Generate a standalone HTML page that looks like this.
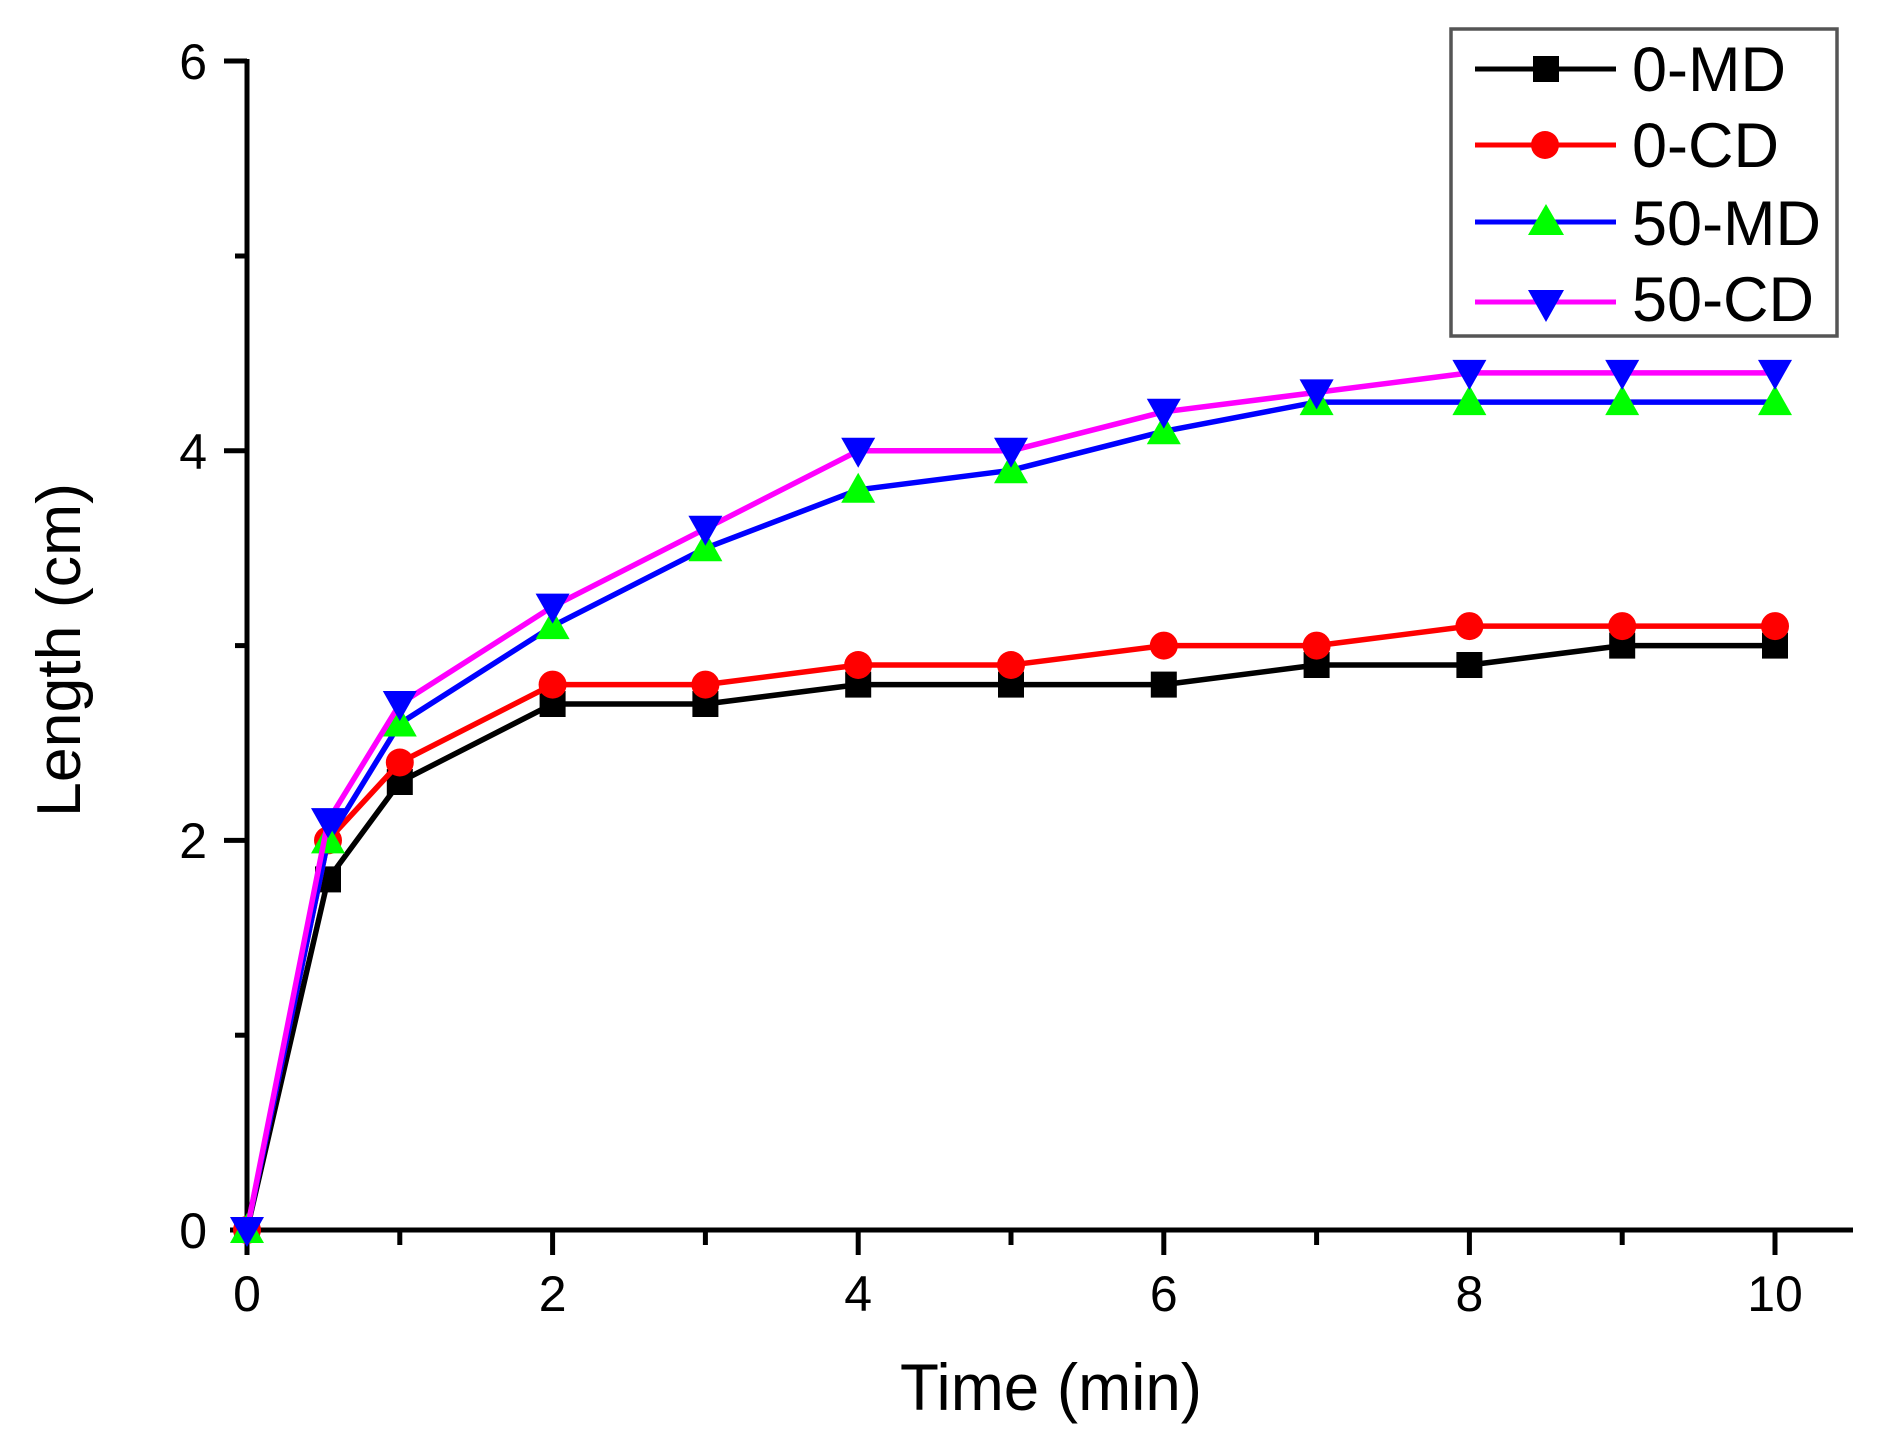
<!DOCTYPE html>
<html><head><meta charset="utf-8"><style>body{margin:0;background:#fff}svg{display:block}</style></head>
<body>
<svg width="1896" height="1448" viewBox="0 0 1896 1448" xmlns="http://www.w3.org/2000/svg" font-family="Liberation Sans, Arial, sans-serif">
<defs>
<marker id="sq" markerUnits="userSpaceOnUse" markerWidth="26" markerHeight="26" refX="13" refY="13" overflow="visible"><rect x="0" y="0" width="26" height="26" fill="#000"/></marker>
<marker id="ci" markerUnits="userSpaceOnUse" markerWidth="28" markerHeight="28" refX="14" refY="14" overflow="visible"><circle cx="14" cy="14" r="14" fill="#f00"/></marker>
<marker id="tu" markerUnits="userSpaceOnUse" markerWidth="34" markerHeight="30" refX="17" refY="17" overflow="visible"><polygon points="17,0 34,30 0,30" fill="#0f0"/></marker>
<marker id="td" markerUnits="userSpaceOnUse" markerWidth="34" markerHeight="30" refX="17" refY="13" overflow="visible"><polygon points="0,0 34,0 17,30" fill="#00f"/></marker>
</defs>
<g stroke="#000" stroke-width="5" fill="none">
<line x1="247" y1="59" x2="247" y2="1232"/>
<line x1="230" y1="1230" x2="1853" y2="1230"/>
<line x1="224" y1="61" x2="247" y2="61"/>
<line x1="224" y1="450.8" x2="247" y2="450.8"/>
<line x1="224" y1="840.4" x2="247" y2="840.4"/>
<line x1="235" y1="256" x2="247" y2="256"/>
<line x1="235" y1="645.6" x2="247" y2="645.6"/>
<line x1="235" y1="1035.2" x2="247" y2="1035.2"/>
<line x1="247" y1="1230" x2="247" y2="1255"/>
<line x1="552.6" y1="1230" x2="552.6" y2="1255"/>
<line x1="858.2" y1="1230" x2="858.2" y2="1255"/>
<line x1="1163.8" y1="1230" x2="1163.8" y2="1255"/>
<line x1="1469.4" y1="1230" x2="1469.4" y2="1255"/>
<line x1="1775" y1="1230" x2="1775" y2="1255"/>
<line x1="399.8" y1="1230" x2="399.8" y2="1245"/>
<line x1="705.4" y1="1230" x2="705.4" y2="1245"/>
<line x1="1011" y1="1230" x2="1011" y2="1245"/>
<line x1="1316.6" y1="1230" x2="1316.6" y2="1245"/>
<line x1="1622.2" y1="1230" x2="1622.2" y2="1245"/>
</g>
<g font-size="50" fill="#000">
<g text-anchor="end">
<text x="207" y="79">6</text>
<text x="207" y="469">4</text>
<text x="207" y="858">2</text>
<text x="207" y="1248">0</text>
</g>
<g text-anchor="middle">
<text x="247" y="1311">0</text>
<text x="552.6" y="1311">2</text>
<text x="858.2" y="1311">4</text>
<text x="1163.8" y="1311">6</text>
<text x="1469.4" y="1311">8</text>
<text x="1775" y="1311">10</text>
</g>
</g>
<text x="900" y="1410" font-size="66" textLength="302" lengthAdjust="spacingAndGlyphs">Time (min)</text>
<text transform="translate(80,817) rotate(-90)" font-size="62" textLength="334" lengthAdjust="spacingAndGlyphs">Length (cm)</text>
<g fill="none" stroke-width="5.5" stroke-linejoin="round">
<polyline stroke="#000" marker-start="url(#sq)" marker-mid="url(#sq)" marker-end="url(#sq)" points="247,1230 328,879.4 399.8,782 552.6,704 705.4,704 858.2,684.6 1011,684.6 1163.8,684.6 1316.6,665 1469.4,665 1622.2,645.6 1775,645.6"/>
<polyline stroke="#f00" marker-start="url(#ci)" marker-mid="url(#ci)" marker-end="url(#ci)" points="247,1230 328,840.4 399.8,762.5 552.6,684.6 705.4,684.6 858.2,665 1011,665 1163.8,645.6 1316.6,645.6 1469.4,626.1 1622.2,626.1 1775,626.1"/>
<polyline stroke="#00f" marker-start="url(#tu)" marker-mid="url(#tu)" marker-end="url(#tu)" points="247,1230 328,840.4 399.8,723.5 552.6,626.1 705.4,548.2 858.2,489.8 1011,470.3 1163.8,431.3 1316.6,402.1 1469.4,402.1 1622.2,402.1 1775,402.1"/>
<polyline stroke="#f0f" marker-start="url(#td)" marker-mid="url(#td)" marker-end="url(#td)" points="247,1230 328,821.1 399.8,704 552.6,606.6 705.4,528.7 858.2,450.8 1011,450.8 1163.8,411.8 1316.6,392.4 1469.4,372.9 1622.2,372.9 1775,372.9"/>
</g>
<rect x="1451" y="29" width="386" height="307" fill="#fff" stroke="#555" stroke-width="3.5"/>
<g stroke-width="5">
<line x1="1475" y1="69" x2="1616" y2="69" stroke="#000"/>
<rect x="1533" y="56" width="26" height="26" fill="#000"/>
<line x1="1475" y1="145" x2="1616" y2="145" stroke="#f00"/>
<circle cx="1545" cy="145" r="14" fill="#f00"/>
<line x1="1475" y1="222" x2="1616" y2="222" stroke="#00f"/>
<polygon points="1546,204 1564,235 1528,235" fill="#0f0"/>
<line x1="1475" y1="302" x2="1616" y2="302" stroke="#f0f"/>
<polygon points="1528,290 1564,290 1546,322" fill="#00f"/>
</g>
<g font-size="63" fill="#000">
<text x="1632" y="91">0-MD</text>
<text x="1632" y="167">0-CD</text>
<text x="1632" y="245">50-MD</text>
<text x="1632" y="321">50-CD</text>
</g>
</svg>
</body></html>
